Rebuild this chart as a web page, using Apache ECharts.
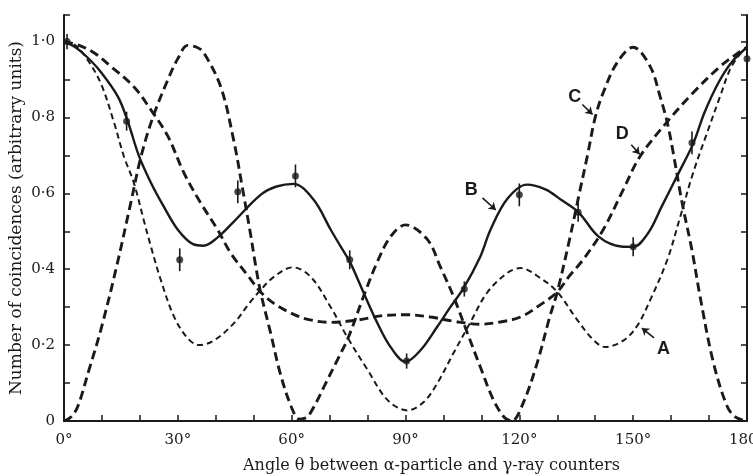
<!DOCTYPE html>
<html><head><meta charset="utf-8">
<script src="https://cdn.jsdelivr.net/npm/echarts@6/dist/echarts.min.js"></script>
<style>html,body{margin:0;padding:0;background:#fff}#c{width:753px;height:476px}</style>
</head><body><div id="c"></div>
<script>
// Tick labels
const xTickValues = [0, 30, 60, 90, 120, 150, 180];
const xTickLabels = ['0°', '30°', '60°', '90°', '120°', '150°', '180°'];
const yTickValues = [0, 0.2, 0.4, 0.6, 0.8, 1.0];
const yTickLabels = ['0', '0·2', '0·4', '0·6', '0·8', '1·0'];

// Curves: [angle (deg), coincidences]
const curveA = [[0,1.0],[3,0.99],[6,0.955],[9.7,0.89],[13.2,0.786],[15.8,0.697],[18.4,0.628],[21,0.53],[22.9,0.46],[25.5,0.372],[29,0.275],[32.6,0.218],[35.6,0.2],[39.5,0.212],[44.8,0.258],[48.8,0.31],[51.8,0.345],[55.3,0.38],[60.3,0.405],[65,0.38],[70.3,0.30],[74.6,0.222],[80,0.135],[85.3,0.055],[90.5,0.028],[94.8,0.05],[98.4,0.10],[102.7,0.18],[107,0.258],[111.5,0.338],[116.8,0.39],[120.3,0.403],[125.5,0.377],[130,0.34],[135.3,0.266],[139.5,0.214],[142.6,0.195],[147.4,0.212],[151,0.25],[154.5,0.319],[159,0.425],[162.4,0.538],[165.8,0.654],[169.5,0.76],[172.9,0.855],[175.5,0.926],[178,0.965],[180,0.985]];
const curveB = [[0,1.0],[3,0.985],[6,0.96],[9.7,0.92],[14.2,0.855],[16.8,0.79],[19.7,0.70],[22.9,0.628],[26.3,0.565],[30,0.504],[34,0.466],[36.8,0.462],[40.5,0.484],[44.7,0.525],[51.8,0.596],[56,0.618],[60.5,0.625],[65.8,0.583],[70.3,0.504],[72.9,0.46],[75.5,0.416],[79,0.337],[82.6,0.258],[86,0.196],[90,0.156],[94,0.187],[98.4,0.249],[101.8,0.30],[105.3,0.35],[109.7,0.433],[112.4,0.504],[116.8,0.585],[122,0.623],[127,0.61],[131,0.583],[135.6,0.55],[140.9,0.486],[146.8,0.46],[150,0.459],[154,0.496],[157.5,0.565],[162,0.654],[165.9,0.733],[168.8,0.813],[172.5,0.892],[175.9,0.945],[180,0.985]];
const curveC = [[0,0],[2,0.012],[3.7,0.04],[6.6,0.135],[9.7,0.24],[13.7,0.40],[17.6,0.575],[20.3,0.697],[23.4,0.80],[27.4,0.90],[30,0.955],[32.6,0.99],[35,0.985],[36.8,0.971],[41.3,0.881],[44.7,0.741],[47.1,0.61],[49.2,0.49],[50.5,0.41],[51.8,0.34],[54.5,0.23],[57,0.125],[60,0.035],[62,0.005],[64,0.01],[66,0.04],[69,0.1],[72,0.16],[75,0.222],[79,0.33],[82.6,0.42],[86,0.485],[90,0.517],[95.8,0.478],[99.2,0.406],[102.7,0.327],[106.3,0.232],[109.7,0.143],[113.2,0.055],[116,0.01],[118,0.0],[121,0.047],[124.7,0.153],[128,0.274],[130,0.34],[133.4,0.486],[135.6,0.59],[137.9,0.697],[140,0.80],[142.1,0.865],[145.8,0.945],[150,0.985],[154.5,0.934],[157.1,0.855],[159,0.786],[160.5,0.71],[162.9,0.575],[165.5,0.45],[167.6,0.33],[171,0.16],[174.7,0.04],[177,0.01],[180,0]];
const curveD = [[0,1.0],[4,0.99],[8,0.97],[12.4,0.934],[18.4,0.881],[22.9,0.82],[27.4,0.75],[31.6,0.654],[36,0.575],[40.5,0.504],[43.9,0.443],[48.7,0.38],[51.8,0.34],[55.3,0.31],[59.7,0.285],[64.2,0.268],[70.3,0.26],[77.4,0.266],[83.4,0.277],[90.5,0.28],[96.6,0.274],[102.6,0.263],[109.7,0.255],[115,0.261],[120.3,0.274],[125.5,0.306],[130,0.34],[133,0.38],[136.8,0.425],[142.1,0.504],[147.4,0.61],[151.8,0.697],[159,0.789],[165.8,0.865],[172.9,0.934],[178.2,0.974],[180,0.985]];

// Experimental points
const pointTheta = [0.8, 16.5, 30.5, 45.8, 61, 75.3, 90.3, 105.5, 120, 135.5, 150, 165.5, 180];
const pointValue = [1.0, 0.79, 0.425, 0.604, 0.646, 0.425, 0.158, 0.348, 0.596, 0.55, 0.459, 0.733, 0.955];
const pointError = [0.02, 0.025, 0.03, 0.03, 0.03, 0.025, 0.02, 0.02, 0.03, 0.025, 0.025, 0.03, 0.02];

const ink = '#1a1a1a';
const serif = 'DejaVu Serif, Liberation Serif, serif';
const letterFont = {fontFamily: 'Liberation Sans, DejaVu Sans, sans-serif', fontWeight: 'bold', fontSize: 18, color: ink};

function tag(letter, pos, from, to) {
  return {
    markPoint: {
      silent: true, animation: false,
      symbol: 'circle', symbolSize: 1, itemStyle: {color: 'rgba(0,0,0,0)'},
      label: Object.assign({show: true, position: 'inside', formatter: letter}, letterFont),
      data: [{coord: pos}]
    },
    markLine: {
      silent: true, animation: false,
      symbol: ['none', 'arrow'], symbolSize: 7,
      lineStyle: {color: ink, width: 1.6, type: 'solid'},
      label: {show: false},
      data: [[{coord: from}, {coord: to}]]
    }
  };
}

function lineSeries(name, data, style, t) {
  return Object.assign({
    name, type: 'line', data, showSymbol: false, smooth: 0.35, z: 2,
    lineStyle: Object.assign({color: ink}, style)
  }, t);
}

const chart = echarts.init(document.getElementById('c'), null, {renderer: 'canvas'});
const axisCommon = {
  axisLine: {show: true, lineStyle: {color: ink, width: 2}},
  axisTick: {show: true, inside: true, length: 6, lineStyle: {color: ink, width: 1.5}},
  splitLine: {show: false}
};
chart.setOption({
  animation: false,
  backgroundColor: '#fff',
  grid: {left: 64, right: 6, top: 15, bottom: 55, containLabel: false, outerBoundsMode: 'none'},
  xAxis: Object.assign({
    type: 'value', min: 0, max: 180, interval: 10,
    axisLabel: {
      margin: 12, fontFamily: serif, fontSize: 15, color: ink,
      formatter: v => { const i = xTickValues.indexOf(Math.round(v)); return i >= 0 ? xTickLabels[i] : ''; }
    },
    name: 'Angle θ between α-particle and γ-ray counters',
    nameLocation: 'middle', nameGap: 37,
    nameTextStyle: {fontFamily: serif, fontSize: 16, color: ink, padding: [0, 0, 0, 52]}
  }, axisCommon),
  yAxis: [
    Object.assign({
      type: 'value', min: 0, max: 1.07, interval: 0.1, position: 'left',
      axisLabel: {
        margin: 9, fontFamily: serif, fontSize: 15, color: ink,
        formatter: v => { const i = yTickValues.findIndex(t => Math.abs(t - v) < 1e-6); return i >= 0 ? yTickLabels[i] : ''; }
      },
      name: 'Number of coincidences (arbitrary units)',
      nameLocation: 'middle', nameGap: 39, nameRotate: 90, nameMoveOverlap: false,
      nameTextStyle: {fontFamily: serif, fontSize: 17, color: ink}
    }, axisCommon),
    Object.assign({
      type: 'value', min: 0, max: 1.07, interval: 0.1, position: 'right',
      axisLabel: {show: false}
    }, axisCommon)
  ],
  series: [
    lineSeries('A', curveA, {width: 2, type: [6, 4]}, tag('A', [158, 0.19], [155.5, 0.219], [152.3, 0.245])),
    lineSeries('B', curveB, {width: 2.4, type: 'solid'}, tag('B', [107.3, 0.61], [110.3, 0.588], [113.8, 0.556])),
    lineSeries('C', curveC, {width: 2.9, type: [9, 5]}, tag('C', [134.6, 0.855], [136.6, 0.834], [139.3, 0.808])),
    lineSeries('D', curveD, {width: 2.9, type: [9, 5]}, tag('D', [147.1, 0.755], [149.5, 0.728], [151.7, 0.703])),
    {
      name: 'errors', type: 'custom', z: 3,
      data: pointTheta.map((t, i) => [t, pointValue[i], pointError[i]]),
      renderItem: (params, api) => {
        const x = api.value(0), y = api.value(1), e = api.value(2);
        const p1 = api.coord([x, y + e]), p2 = api.coord([x, y - e]);
        return {type: 'line', shape: {x1: p1[0], y1: p1[1], x2: p2[0], y2: p2[1]}, style: {stroke: ink, lineWidth: 1.6}};
      }
    },
    {
      name: 'points', type: 'scatter', z: 4, symbol: 'circle', symbolSize: 7,
      itemStyle: {color: ink},
      data: pointTheta.map((t, i) => [t, pointValue[i]])
    }
  ]
});
</script>
</body></html>
